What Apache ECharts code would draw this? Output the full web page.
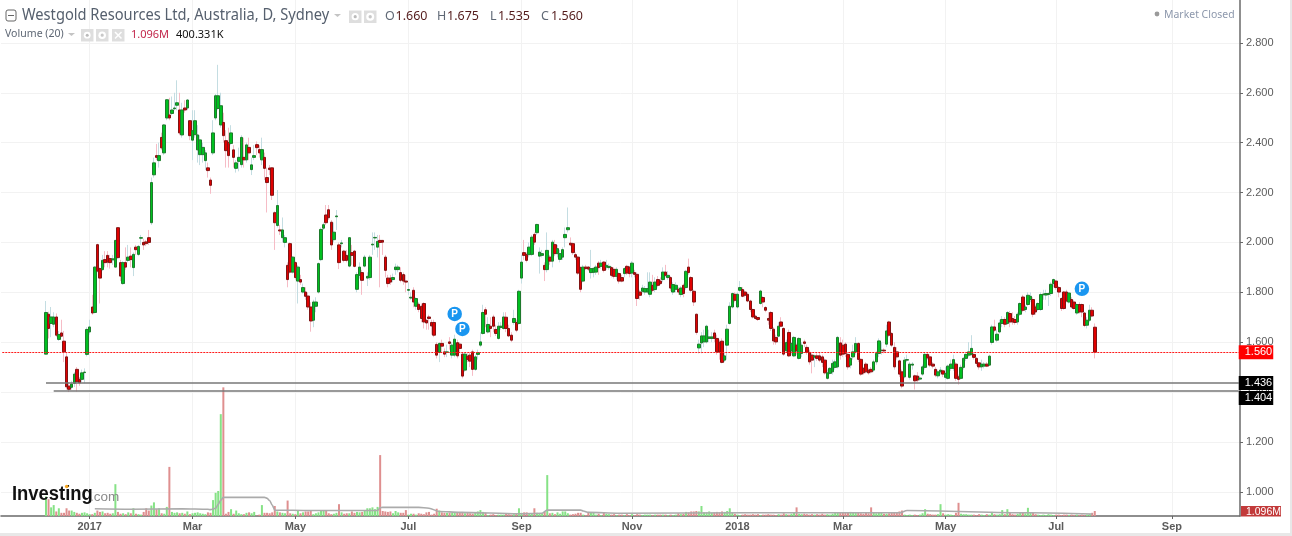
<!DOCTYPE html>
<html><head><meta charset="utf-8">
<style>html,body{margin:0;padding:0;background:#e8e8e8;overflow:hidden}#c{width:1290px;height:533px;background:#fff}</style>
<script src="https://cdn.jsdelivr.net/npm/echarts@6/dist/echarts.min.js"></script>
</head><body><div id="c"></div>
<script>
var slotCount = 482;
var firstBarSlot = 17;
var monthSlots = [34,74,114,158,202,245,286,327,367,410,455];
var monthLabels = ['2017','Mar','May','Jul','Sep','Nov','2018','Mar','May','Jul','Sep'];
var priceTicks = [1.0,1.2,1.4,1.6,1.8,2.0,2.2,2.4,2.6,2.8];
var lastClose = 1.560;
var supportLevels = [1.436,1.404];
var supportStartSlots = [17,20];
var pubSlots = [176,179,420];
var pubPrices = [1.713,1.653,1.814];
// [open, close, low, high]
var candles = [
[1.552,1.719,1.552,1.765],[1.712,1.655,1.615,1.722],[1.675,1.701,1.620,1.741],[1.672,1.701,1.660,1.720],[1.701,1.628,1.620,1.715],
[1.611,1.631,1.605,1.645],[1.637,1.624,1.620,1.690],[1.604,1.561,1.520,1.645],[1.541,1.421,1.410,1.560],[1.424,1.411,1.400,1.440],
[1.419,1.432,1.410,1.445],[1.435,1.472,1.420,1.480],[1.491,1.441,1.402,1.500],[1.451,1.437,1.425,1.460],[1.451,1.477,1.440,1.490],
[1.478,1.480,1.435,1.495],[1.551,1.651,1.543,1.660],[1.641,1.661,1.630,1.690],[1.741,1.717,1.710,1.790],[1.719,1.901,1.715,1.905],
[1.991,1.885,1.880,1.995],[1.895,1.857,1.755,1.900],[1.891,1.928,1.885,1.950],[1.931,1.919,1.900,1.965],[1.948,1.921,1.900,1.965],
[1.935,1.919,1.895,1.950],[1.930,1.934,1.910,1.950],[1.901,2.008,1.900,2.010],[2.059,1.939,1.935,2.060],[1.919,1.865,1.845,1.930],
[1.835,1.919,1.830,1.925],[1.919,1.901,1.890,1.980],[1.928,1.941,1.920,1.990],[1.945,1.931,1.900,1.980],[1.899,1.952,1.865,1.960],
[1.981,1.971,1.950,1.990],[1.952,1.984,1.945,1.990],[2.017,2.019,1.990,2.030],[2.000,1.990,1.970,2.015],[2.002,1.995,1.985,2.010],
[2.019,2.000,1.990,2.050],[2.079,2.240,2.070,2.260],[2.271,2.319,2.260,2.340],[2.348,2.341,2.330,2.395],[2.328,2.348,2.300,2.400],
[2.421,2.379,2.370,2.440],[2.359,2.471,2.350,2.475],[2.499,2.572,2.490,2.575],[2.511,2.499,2.490,2.580],[2.517,2.531,2.510,2.585],
[2.536,2.539,2.530,2.600],[2.550,2.560,2.530,2.650],[2.531,2.439,2.430,2.600],[2.431,2.531,2.420,2.560],[2.539,2.531,2.520,2.570],
[2.539,2.571,2.530,2.575],[2.488,2.428,2.410,2.490],[2.410,2.448,2.330,2.530],[2.432,2.488,2.420,2.530],[2.371,2.431,2.320,2.470],
[2.352,2.411,2.310,2.430],[2.352,2.381,2.320,2.400],[2.328,2.359,2.290,2.370],[2.299,2.288,2.260,2.320],[2.250,2.229,2.195,2.260],
[2.359,2.439,2.350,2.490],[2.499,2.588,2.490,2.595],[2.537,2.588,2.530,2.712],[2.471,2.548,2.460,2.600],[2.481,2.428,2.400,2.520],
[2.408,2.368,2.300,2.450],[2.401,2.348,2.300,2.460],[2.397,2.439,2.390,2.470],[2.371,2.341,2.300,2.390],[2.297,2.319,2.280,2.330],
[2.325,2.341,2.285,2.380],[2.312,2.421,2.300,2.430],[2.341,2.331,2.300,2.420],[2.331,2.391,2.320,2.400],[2.381,2.359,2.330,2.420],
[2.292,2.311,2.270,2.340],[2.341,2.348,2.330,2.390],[2.392,2.380,2.350,2.405],[2.372,2.359,2.340,2.390],[2.331,2.372,2.310,2.420],
[2.341,2.297,2.250,2.360],[2.260,2.240,2.120,2.300],[2.298,2.292,2.270,2.310],[2.299,2.189,2.170,2.300],[2.119,2.079,1.970,2.125],
[2.068,2.148,2.060,2.210],[2.050,2.046,2.030,2.070],[2.019,2.050,2.000,2.100],[2.000,2.019,1.980,2.030],[1.908,1.851,1.820,1.920],
[1.995,1.881,1.875,2.000],[1.881,1.941,1.875,1.945],[1.919,1.859,1.850,1.925],[1.845,1.901,1.755,1.910],[1.851,1.841,1.830,1.870],
[1.801,1.819,1.795,1.835],[1.801,1.784,1.770,1.820],[1.785,1.741,1.730,1.800],[1.741,1.685,1.642,1.760],[1.688,1.761,1.660,1.770],
[1.744,1.761,1.720,1.780],[1.801,1.915,1.795,1.920],[1.931,2.052,1.925,2.060],[2.057,2.071,2.050,2.080],[2.110,2.079,2.070,2.150],
[2.131,2.099,2.090,2.150],[2.081,1.990,1.970,2.090],[2.011,2.041,2.000,2.080],[2.103,2.106,2.050,2.130],[1.990,1.919,1.893,2.000],
[1.995,1.998,1.980,2.010],[1.965,1.928,1.920,1.970],[1.948,1.928,1.920,1.970],[1.905,2.019,1.900,2.020],[1.959,1.948,1.910,1.990],
[1.965,1.904,1.900,1.970],[1.812,1.871,1.800,1.880],[1.868,1.901,1.855,1.920],[1.879,1.848,1.790,1.890],[1.905,1.941,1.900,1.950],
[1.857,1.864,1.825,1.880],[1.859,1.941,1.850,1.950],[1.990,1.993,1.950,2.040],[2.018,2.020,1.970,2.040],[1.981,2.004,1.940,2.030],
[2.008,2.000,1.820,2.030],[2.008,2.001,1.950,2.010],[1.941,1.888,1.860,1.950],[1.857,1.835,1.820,1.870],[1.857,1.841,1.830,1.870],
[1.851,1.859,1.840,1.875],[1.891,1.901,1.870,1.915],[1.891,1.901,1.880,1.910],[1.879,1.848,1.840,1.900],[1.871,1.845,1.830,1.880],
[1.845,1.841,1.800,1.870],[1.808,1.811,1.790,1.840],[1.777,1.780,1.770,1.800],[1.808,1.761,1.740,1.820],[1.744,1.775,1.730,1.780],
[1.752,1.731,1.720,1.760],[1.744,1.695,1.680,1.755],[1.755,1.681,1.655,1.760],[1.688,1.677,1.650,1.690],[1.701,1.695,1.650,1.710],
[1.679,1.665,1.630,1.690],[1.679,1.628,1.620,1.690],[1.591,1.548,1.535,1.600],[1.559,1.595,1.520,1.600],[1.595,1.584,1.560,1.610],
[1.561,1.552,1.540,1.575],[1.559,1.561,1.540,1.590],[1.601,1.595,1.570,1.620],[1.548,1.588,1.535,1.600],[1.548,1.612,1.540,1.630],
[1.598,1.545,1.535,1.610],[1.592,1.575,1.560,1.600],[1.552,1.464,1.455,1.560],[1.488,1.552,1.480,1.560],[1.544,1.531,1.520,1.555],
[1.548,1.524,1.500,1.560],[1.561,1.491,1.465,1.570],[1.491,1.541,1.485,1.550],[1.551,1.558,1.530,1.570],[1.588,1.601,1.580,1.640],
[1.635,1.719,1.630,1.750],[1.730,1.712,1.660,1.740],[1.641,1.671,1.635,1.700],[1.664,1.655,1.620,1.700],[1.701,1.664,1.640,1.710],
[1.651,1.635,1.625,1.670],[1.615,1.664,1.610,1.680],[1.659,1.664,1.650,1.680],[1.655,1.701,1.650,1.720],[1.700,1.655,1.640,1.720],
[1.655,1.625,1.620,1.670],[1.628,1.608,1.600,1.640],[1.679,1.695,1.670,1.730],[1.679,1.648,1.640,1.690],[1.675,1.804,1.670,1.810],
[1.857,1.921,1.835,1.950],[1.959,1.948,1.930,2.010],[1.952,1.928,1.920,1.960],[1.951,1.981,1.940,2.000],[1.952,2.021,1.945,2.030],
[2.032,2.001,1.990,2.040],[2.039,2.072,2.030,2.075],[1.945,1.961,1.875,1.980],[1.948,1.955,1.940,1.970],[1.908,1.891,1.845,1.920],
[1.891,1.968,1.880,2.040],[1.941,1.925,1.910,1.950],[1.925,2.001,1.900,2.010],[1.991,1.955,1.945,2.010],[1.955,1.975,1.940,1.990],
[1.932,1.955,1.920,1.970],[1.941,1.971,1.930,1.980],[2.019,2.032,1.980,2.060],[2.051,2.059,2.040,2.140],[1.997,1.990,1.985,2.020],
[1.995,1.959,1.950,2.000],[1.951,1.941,1.930,1.960],[1.941,1.877,1.870,1.945],[1.899,1.812,1.800,1.905],[1.845,1.901,1.840,1.910],
[1.901,1.895,1.890,1.910],[1.901,1.893,1.885,1.905],[1.879,1.895,1.855,1.970],[1.880,1.896,1.860,1.900],[1.881,1.901,1.870,1.910],
[1.917,1.899,1.870,1.925],[1.904,1.917,1.895,1.930],[1.921,1.888,1.880,1.925],[1.901,1.908,1.890,1.930],[1.899,1.904,1.890,1.915],
[1.899,1.868,1.860,1.905],[1.892,1.864,1.855,1.900],[1.864,1.892,1.850,1.900],[1.875,1.845,1.835,1.880],[1.859,1.845,1.840,1.870],
[1.875,1.895,1.860,1.900],[1.904,1.877,1.870,1.910],[1.901,1.875,1.860,1.905],[1.877,1.917,1.860,1.925],[1.879,1.872,1.860,1.890],
[1.872,1.775,1.745,1.880],[1.801,1.788,1.770,1.810],[1.804,1.817,1.795,1.830],[1.801,1.815,1.790,1.825],[1.801,1.815,1.795,1.880],
[1.792,1.841,1.780,1.880],[1.828,1.808,1.800,1.870],[1.811,1.841,1.800,1.860],[1.851,1.828,1.820,1.865],[1.845,1.835,1.830,1.860],
[1.851,1.881,1.840,1.900],[1.881,1.868,1.860,1.910],[1.859,1.868,1.850,1.885],[1.859,1.817,1.805,1.865],[1.801,1.831,1.790,1.840],
[1.812,1.828,1.800,1.840],[1.812,1.801,1.790,1.820],[1.791,1.817,1.780,1.825],[1.828,1.795,1.780,1.835],[1.819,1.884,1.810,1.890],
[1.901,1.879,1.870,1.935],[1.859,1.808,1.800,1.865],[1.804,1.761,1.745,1.810],[1.712,1.639,1.630,1.715],[1.577,1.592,1.555,1.610],
[1.597,1.625,1.555,1.640],[1.601,1.625,1.580,1.650],[1.601,1.664,1.595,1.670],[1.615,1.621,1.600,1.650],[1.615,1.621,1.600,1.640],
[1.637,1.615,1.600,1.650],[1.615,1.561,1.550,1.630],[1.600,1.560,1.530,1.610],[1.604,1.519,1.515,1.615],[1.528,1.545,1.520,1.560],
[1.588,1.652,1.530,1.670],[1.675,1.744,1.670,1.760],[1.741,1.795,1.735,1.800],[1.792,1.768,1.760,1.800],[1.741,1.792,1.735,1.800],
[1.808,1.819,1.800,1.845],[1.811,1.784,1.780,1.820],[1.801,1.788,1.780,1.810],[1.792,1.765,1.760,1.800],[1.765,1.731,1.720,1.770],
[1.731,1.701,1.695,1.735],[1.704,1.695,1.690,1.710],[1.699,1.691,1.685,1.700],[1.755,1.805,1.750,1.810],[1.779,1.761,1.740,1.785],
[1.739,1.728,1.720,1.745],[1.695,1.688,1.670,1.720],[1.719,1.655,1.645,1.725],[1.652,1.605,1.590,1.660],[1.619,1.601,1.590,1.630],
[1.624,1.664,1.620,1.680],[1.681,1.664,1.660,1.700],[1.655,1.552,1.545,1.660],[1.565,1.599,1.560,1.610],[1.639,1.545,1.540,1.650],
[1.565,1.595,1.550,1.600],[1.545,1.619,1.540,1.625],[1.588,1.565,1.550,1.595],[1.535,1.615,1.530,1.620],[1.555,1.588,1.540,1.600],
[1.601,1.595,1.580,1.610],[1.579,1.559,1.550,1.590],[1.559,1.521,1.510,1.570],[1.548,1.528,1.475,1.560],[1.540,1.545,1.500,1.550],
[1.545,1.535,1.525,1.555],[1.545,1.528,1.520,1.560],[1.541,1.519,1.500,1.550],[1.528,1.477,1.470,1.535],[1.455,1.477,1.450,1.490],
[1.475,1.495,1.470,1.500],[1.481,1.515,1.470,1.530],[1.499,1.521,1.490,1.530],[1.501,1.619,1.495,1.625],[1.597,1.548,1.530,1.620],
[1.588,1.552,1.540,1.610],[1.592,1.555,1.540,1.600],[1.551,1.501,1.490,1.560],[1.508,1.535,1.495,1.540],[1.541,1.561,1.530,1.590],
[1.561,1.595,1.550,1.620],[1.595,1.531,1.520,1.600],[1.531,1.472,1.465,1.535],[1.495,1.477,1.470,1.500],[1.512,1.481,1.475,1.520],
[1.488,1.477,1.470,1.495],[1.491,1.481,1.475,1.500],[1.488,1.521,1.480,1.530],[1.521,1.555,1.510,1.565],[1.555,1.605,1.540,1.615],
[1.566,1.568,1.550,1.600],[1.568,1.565,1.555,1.575],[1.592,1.645,1.580,1.670],[1.681,1.628,1.620,1.686],[1.635,1.588,1.580,1.640],
[1.579,1.501,1.490,1.600],[1.561,1.541,1.530,1.580],[1.525,1.472,1.460,1.530],[1.481,1.424,1.415,1.490],[1.461,1.528,1.455,1.540],
[1.528,1.530,1.520,1.550],[1.459,1.512,1.450,1.520],[1.508,1.512,1.490,1.520],[1.465,1.445,1.410,1.470],[1.464,1.448,1.440,1.480],
[1.452,1.456,1.445,1.465],[1.472,1.501,1.465,1.510],[1.499,1.551,1.490,1.560],[1.551,1.537,1.530,1.560],[1.541,1.508,1.500,1.550],
[1.512,1.504,1.495,1.520],[1.491,1.468,1.460,1.500],[1.465,1.481,1.455,1.490],[1.481,1.488,1.470,1.500],[1.485,1.472,1.460,1.490],
[1.459,1.475,1.450,1.500],[1.455,1.504,1.450,1.510],[1.495,1.512,1.485,1.530],[1.495,1.530,1.485,1.550],[1.512,1.455,1.445,1.520],
[1.461,1.451,1.430,1.470],[1.455,1.499,1.450,1.510],[1.499,1.535,1.490,1.540],[1.535,1.551,1.525,1.555],[1.548,1.561,1.540,1.600],
[1.551,1.575,1.545,1.628],[1.551,1.539,1.530,1.560],[1.535,1.515,1.505,1.540],[1.517,1.501,1.490,1.520],[1.501,1.512,1.485,1.530],
[1.504,1.512,1.495,1.520],[1.512,1.504,1.500,1.520],[1.508,1.544,1.505,1.550],[1.599,1.661,1.590,1.670],[1.661,1.648,1.640,1.690],
[1.608,1.632,1.600,1.650],[1.641,1.677,1.635,1.690],[1.675,1.691,1.660,1.705],[1.691,1.672,1.660,1.700],[1.675,1.719,1.670,1.725],
[1.715,1.681,1.660,1.725],[1.695,1.681,1.670,1.720],[1.691,1.679,1.670,1.705],[1.681,1.712,1.670,1.720],[1.712,1.755,1.705,1.760],
[1.781,1.728,1.720,1.790],[1.731,1.741,1.720,1.750],[1.751,1.788,1.745,1.800],[1.771,1.784,1.760,1.800],[1.771,1.712,1.700,1.780],
[1.741,1.721,1.710,1.750],[1.731,1.755,1.725,1.760],[1.731,1.791,1.725,1.800],[1.790,1.793,1.770,1.810],[1.789,1.795,1.770,1.810],
[1.791,1.795,1.745,1.800],[1.795,1.832,1.785,1.840],[1.835,1.851,1.820,1.855],[1.845,1.819,1.810,1.850],[1.819,1.801,1.780,1.825],
[1.775,1.735,1.725,1.780],[1.801,1.735,1.730,1.805],[1.801,1.765,1.760,1.810],[1.761,1.797,1.755,1.800],[1.771,1.741,1.735,1.780],
[1.761,1.735,1.730,1.770],[1.717,1.751,1.710,1.755],[1.751,1.721,1.715,1.760],[1.751,1.721,1.700,1.755],[1.717,1.667,1.660,1.720],
[1.668,1.688,1.655,1.700],[1.688,1.728,1.680,1.750],[1.728,1.705,1.700,1.740],[1.660,1.560,1.535,1.675]
];
// millions of shares
var volumes = [
4.3,3.7,1.9,2.4,1.0,1.7,0.7,0.7,1.7,1.2,1.2,0.9,0.7,0.5,0.7,0.8,0.6,0.4,0.4,0.7,
1.2,0.9,1.0,0.6,0.7,0.5,0.6,7.0,0.9,0.5,0.6,0.4,0.8,0.6,1.7,0.5,0.4,0.3,0.9,
1.7,1.2,2.3,3.0,1.5,1.7,0.6,0.5,2.0,10.8,0.9,0.7,0.8,0.6,0.7,0.5,1.0,0.4,0.6,0.7,
0.8,0.6,0.5,0.4,0.8,0.7,3.5,5.1,5.5,22.4,28.3,0.5,0.9,1.5,0.5,1.2,0.6,0.4,0.4,0.7,
0.8,0.6,0.9,0.1,0.3,2.4,0.7,0.7,0.6,0.8,2.2,1.0,0.8,0.7,0.6,3.4,0.6,0.5,0.4,1.1,
0.6,0.8,1.0,1.0,1.1,0.4,0.6,0.8,1.1,1.3,1.2,0.6,0.4,0.5,0.7,2.6,0.8,0.5,0.6,0.6,
1.0,0.7,0.9,0.8,0.9,1.3,1.7,1.7,1.9,1.5,2.0,13.4,1.1,1.0,0.9,1.0,0.6,1.1,0.8,0.7,
0.7,1.3,0.3,0.5,0.5,0.3,0.6,0.5,0.4,0.8,0.9,0.3,0.5,1.6,1.2,0.8,0.7,0.7,0.7,0.7,
0.7,0.8,0.7,0.9,0.6,0.8,0.6,0.5,0.8,1.0,1.3,0.9,0.7,0.2,0.3,0.4,0.2,0.3,0.3,0.3,
0.6,0.4,0.3,0.4,0.5,1.7,0.7,0.8,0.8,0.6,0.5,1.7,0.7,0.6,0.6,0.9,9.0,0.6,0.7,0.4,
0.8,0.5,1.0,1.0,0.6,0.3,0.4,0.5,0.7,0.7,0.3,0.2,0.9,0.8,0.8,0.3,0.5,0.2,0.7,0.5,
0.4,0.3,0.4,0.2,0.3,0.3,0.2,0.4,0.2,0.4,0.2,0.4,0.3,0.2,0.3,0.3,0.3,0.2,0.3,0.3,
0.3,0.3,0.3,0.2,0.3,0.2,0.3,0.6,0.4,0.5,0.9,0.8,1.0,1.0,1.1,1.0,2.2,0.8,0.8,1.0,
0.7,0.8,0.9,0.8,1.0,0.9,1.1,1.7,0.7,0.5,0.3,0.2,0.3,0.4,0.3,0.3,0.4,0.3,0.4,0.2,
0.3,0.3,0.4,0.3,0.3,0.2,0.4,0.3,0.6,0.4,0.3,0.5,0.7,1.9,0.5,0.4,0.5,0.4,0.3,0.4,
0.3,0.4,0.3,0.5,0.3,0.4,0.3,0.5,0.7,0.8,0.8,0.8,0.8,0.7,0.9,0.8,0.7,0.7,0.6,0.5,
0.7,0.6,1.9,0.7,0.6,0.7,0.8,0.5,0.5,0.6,0.7,0.7,0.8,1.0,1.2,0.3,0.2,0.3,0.2,0.3,
0.2,0.3,0.6,1.5,0.5,0.4,0.3,0.3,0.4,2.6,0.6,0.3,0.4,0.3,0.2,0.7,2.9,0.5,0.4,0.4,
0.3,0.3,0.3,0.2,0.4,0.3,0.2,0.4,0.3,0.9,0.4,0.3,0.4,1.3,0.4,1.5,0.7,0.4,0.3,0.5,
0.7,0.7,0.6,1.8,0.8,0.7,0.4,0.3,0.2,0.3,0.2,0.4,0.3,0.2,0.3,0.3,0.2,0.3,0.3,0.2,
0.3,0.2,0.3,0.2,0.3,0.2,0.3,0.4,0.7,1.1
];
var volumeMaSlots = [36,50,70,80,81,83,84,85,86,102,103,104,105,106,120,146,147,148,162,166,170,178,201,210,212,225,226,228,240,290,330,349,352,400,424];
var volumeMaValues = [1.6,1.5,1.6,1.5,1.4,1.7,2.6,3.5,4.1,4.1,3.9,3.4,2.4,1.3,1.2,1.2,1.8,1.9,1.9,1.7,1.0,0.8,0.5,0.6,1.3,1.3,1.1,0.8,0.6,0.7,0.7,0.7,1.2,0.7,0.45];

var slots = [], tickMap = {};
for (var i = 0; i < slotCount; i++) slots.push(String(i));
monthSlots.forEach(function(s, k){ tickMap[s] = monthLabels[k]; });
var isTick = function(i){ return tickMap[i] !== undefined; };
var blanks = []; for (var b = 0; b < firstBarSlot; b++) blanks.push(['-','-','-','-']);
var bodies = candles.map(function(r){ var lo=Math.min(r[0],r[1]), hi=Math.max(r[0],r[1]); return [r[0],r[1],lo,hi]; });
var volData = []; for (b = 0; b < firstBarSlot; b++) volData.push('-');
volumes.forEach(function(v,k){ var r=candles[k]; var up=r?r[1]>=r[0]:false;
  volData.push({value:v,itemStyle:{color:up?'#86e286':'#df8f8f'}}); });
var maData = volumeMaSlots.map(function(s,k){ return [s, volumeMaValues[k]]; });
var pubData = pubSlots.map(function(s,k){ return [s, pubPrices[k]]; });

var sans = '"Liberation Sans", sans-serif';
function badge(t,bg,dy){ return {show:true,position:'end',formatter:t,backgroundColor:bg,color:'#fff',fontFamily:sans,fontSize:11,padding:[1,1,0,6],distance:0,lineHeight:13,offset:[0,dy||0]}; }
function txt(x,y,s,size,fill,sx){ var st={text:s,font:size+'px "Noto Sans", sans-serif',fill:fill,textVerticalAlign:'middle'}; return {type:'text',x:x,y:y,scaleX:sx||1,z:100,style:st,silent:true}; }
function box(x,y){ return {type:'rect',z:100,silent:true,shape:{x:x,y:y,width:12.5,height:12.5},style:{fill:'#dedede'}}; }
function dot(x,y,r,f){ return {type:'circle',z:101,silent:true,shape:{cx:x,cy:y,r:r},style:{fill:f}}; }
function tri(x,y){ return {type:'polygon',z:100,silent:true,shape:{points:[[x,y],[x+7,y],[x+3.5,y+3]]},style:{fill:'#c4c4c4'}}; }

var graphics = [
 {type:'rect',z:100,silent:true,shape:{x:6,y:10,width:10,height:11,r:2},style:{fill:'#fff',stroke:'#666',lineWidth:1}},
 {type:'line',z:100,silent:true,shape:{x1:8,y1:15.5,x2:14,y2:15.5},style:{stroke:'#666',lineWidth:1}},
 txt(22,16,'Westgold Resources Ltd, Australia, D, Sydney',15.5,'#56606e',0.945),
 tri(334,14), box(349,10.5), dot(355.2,16.7,3.6,'#fff'), dot(355.2,16.7,1.6,'#bbb'),
 box(364,10.5), dot(370.2,16.7,4,'#fff'), dot(370.2,16.7,1.7,'#c8c8c8'),
 txt(385,16.5,'O',12.5,'#5f6875'), txt(395.5,16.5,'1.660',12.5,'#541c1c'),
 txt(437,16.5,'H',12.5,'#5f6875'), txt(447,16.5,'1.675',12.5,'#541c1c'),
 txt(490,16.5,'L',12.5,'#5f6875'), txt(498,16.5,'1.535',12.5,'#541c1c'),
 txt(541,16.5,'C',12.5,'#5f6875'), txt(551,16.5,'1.560',12.5,'#541c1c'),
 txt(5,34,'Volume (20)',11,'#5f6875',0.96),
 tri(68,33), box(81,29), dot(87.2,35.2,3.4,'#fff'), dot(87.2,35.2,1.5,'#bbb'),
 box(96,29), dot(102.2,35.2,3.8,'#fff'), dot(102.2,35.2,1.6,'#c8c8c8'),
 box(112,29),
 {type:'line',z:101,silent:true,shape:{x1:115,y1:32,x2:121.5,y2:38.5},style:{stroke:'#fff',lineWidth:1.5}},
 {type:'line',z:101,silent:true,shape:{x1:121.5,y1:32,x2:115,y2:38.5},style:{stroke:'#fff',lineWidth:1.5}},
 txt(131,35,'1.096M',11,'#c2274b'), txt(176,35,'400.331K',11,'#111'),
 dot(1157,14,2.4,'#9a9a9a'),
 txt(1164,14.5,'Market Closed',11,'#8d98ac',0.95),
 {type:'text',x:12,y:494,scaleX:0.92,z:100,silent:true,style:{text:'Investing',font:'bold 20px "Liberation Sans", sans-serif',fill:'#111',textVerticalAlign:'middle'}},
 dot(66.7,486.5,1.8,'#f5a623'),
 {type:'text',x:90,y:497,z:100,silent:true,style:{text:'.com',font:'13.5px "Liberation Sans", sans-serif',fill:'#8a8a8a',textVerticalAlign:'middle'}},
 {type:'rect',z:110,silent:true,shape:{x:1241,y:506,width:40,height:11},style:{fill:'#c23a3a'}},
 {type:'text',x:1246,y:512,z:111,silent:true,style:{text:'1.096M',font:'10.5px '+sans,fill:'#fff',textVerticalAlign:'middle'}},
 {type:'rect',z:112,silent:true,shape:{x:1241,y:516.5,width:48,height:5},style:{fill:'#fff'}}
];

var chart = echarts.init(document.getElementById('c'), null, {renderer:'canvas'});
chart.setOption({
 animation:false,
 backgroundColor:'#fff',
 graphic:graphics,
 grid:{left:1,top:0,width:1239,height:516},
 tooltip:{show:false},
 xAxis:{type:'category',data:slots,boundaryGap:true,
  axisLine:{lineStyle:{color:'#6a6a6a',width:1.5},onZero:false},
  axisTick:{show:true,alignWithLabel:true,interval:isTick,length:3,lineStyle:{color:'#666'}},
  axisLabel:{interval:isTick,margin:5,color:'#5c5c5c',fontFamily:sans,fontSize:11,fontWeight:'bold',
    formatter:function(v){return tickMap[v]||'';}},
  splitLine:{show:true,alignWithLabel:true,interval:isTick,lineStyle:{color:'#f2f2f2',width:1}}},
 yAxis:[
  {type:'value',position:'right',min:0.903,max:2.972,
   axisLine:{show:true,lineStyle:{color:'#6a6a6a',width:1.5}},
   axisTick:{show:true,length:3,customValues:priceTicks,lineStyle:{color:'#666'}},
   axisLabel:{customValues:priceTicks,margin:6,color:'#5c5c5c',fontFamily:sans,fontSize:11,formatter:function(v){return v.toFixed(3);}},
   splitLine:{show:true,lineStyle:{color:'#f2f2f2',width:1}}},
  {type:'value',position:'left',min:0,max:113.5,show:false,splitLine:{show:false}}
 ],
 series:[
  {type:'bar',name:'Volume',yAxisIndex:1,data:volData,barWidth:2,z:1,silent:true},
  {type:'line',name:'Volume MA',yAxisIndex:1,data:maData,showSymbol:false,smooth:0.3,smoothMonotone:'x',z:2,silent:true,lineStyle:{color:'#ababab',width:1.6}},
  {type:'candlestick',name:'Wicks',data:blanks.concat(candles),barWidth:1,large:false,z:3,silent:true,
   itemStyle:{color:'#c4dde2',color0:'#f6bcc6',borderColor:'#c4dde2',borderColor0:'#f6bcc6',borderWidth:1}},
  {type:'candlestick',name:'Bodies',data:blanks.concat(bodies),barWidth:3,large:false,z:4,silent:true,
   itemStyle:{color:'#00c020',color0:'#e00000',borderColor:'#1e7a2c',borderColor0:'#801414',borderWidth:1},
   markLine:{silent:true,symbol:'none',animation:false,precision:3,
    data:[
     [{coord:[0,lastClose],lineStyle:{color:'#ff1a1a',type:[2,1],width:1},label:badge('1.560','#ff0000')},{coord:[slotCount-1,lastClose]}],
     [{coord:[supportStartSlots[0],supportLevels[0]],lineStyle:{color:'#777',type:'solid',width:1.6},label:badge('1.436','#000')},{coord:[slotCount-1,supportLevels[0]]}],
     [{coord:[supportStartSlots[1],supportLevels[1]],lineStyle:{color:'#777',type:'solid',width:1.6},label:badge('1.404','#000',7)},{coord:[slotCount-1,supportLevels[1]]}]
    ]}},
  {type:'scatter',name:'Publications',data:pubData,symbol:'circle',symbolSize:14.5,z:6,silent:true,
   itemStyle:{color:'#1a96f0',opacity:1},
   label:{show:true,position:'inside',formatter:'P',color:'#fff',fontFamily:'Liberation Sans',fontWeight:'bold',fontSize:10}}
 ]
});
</script></body></html>
